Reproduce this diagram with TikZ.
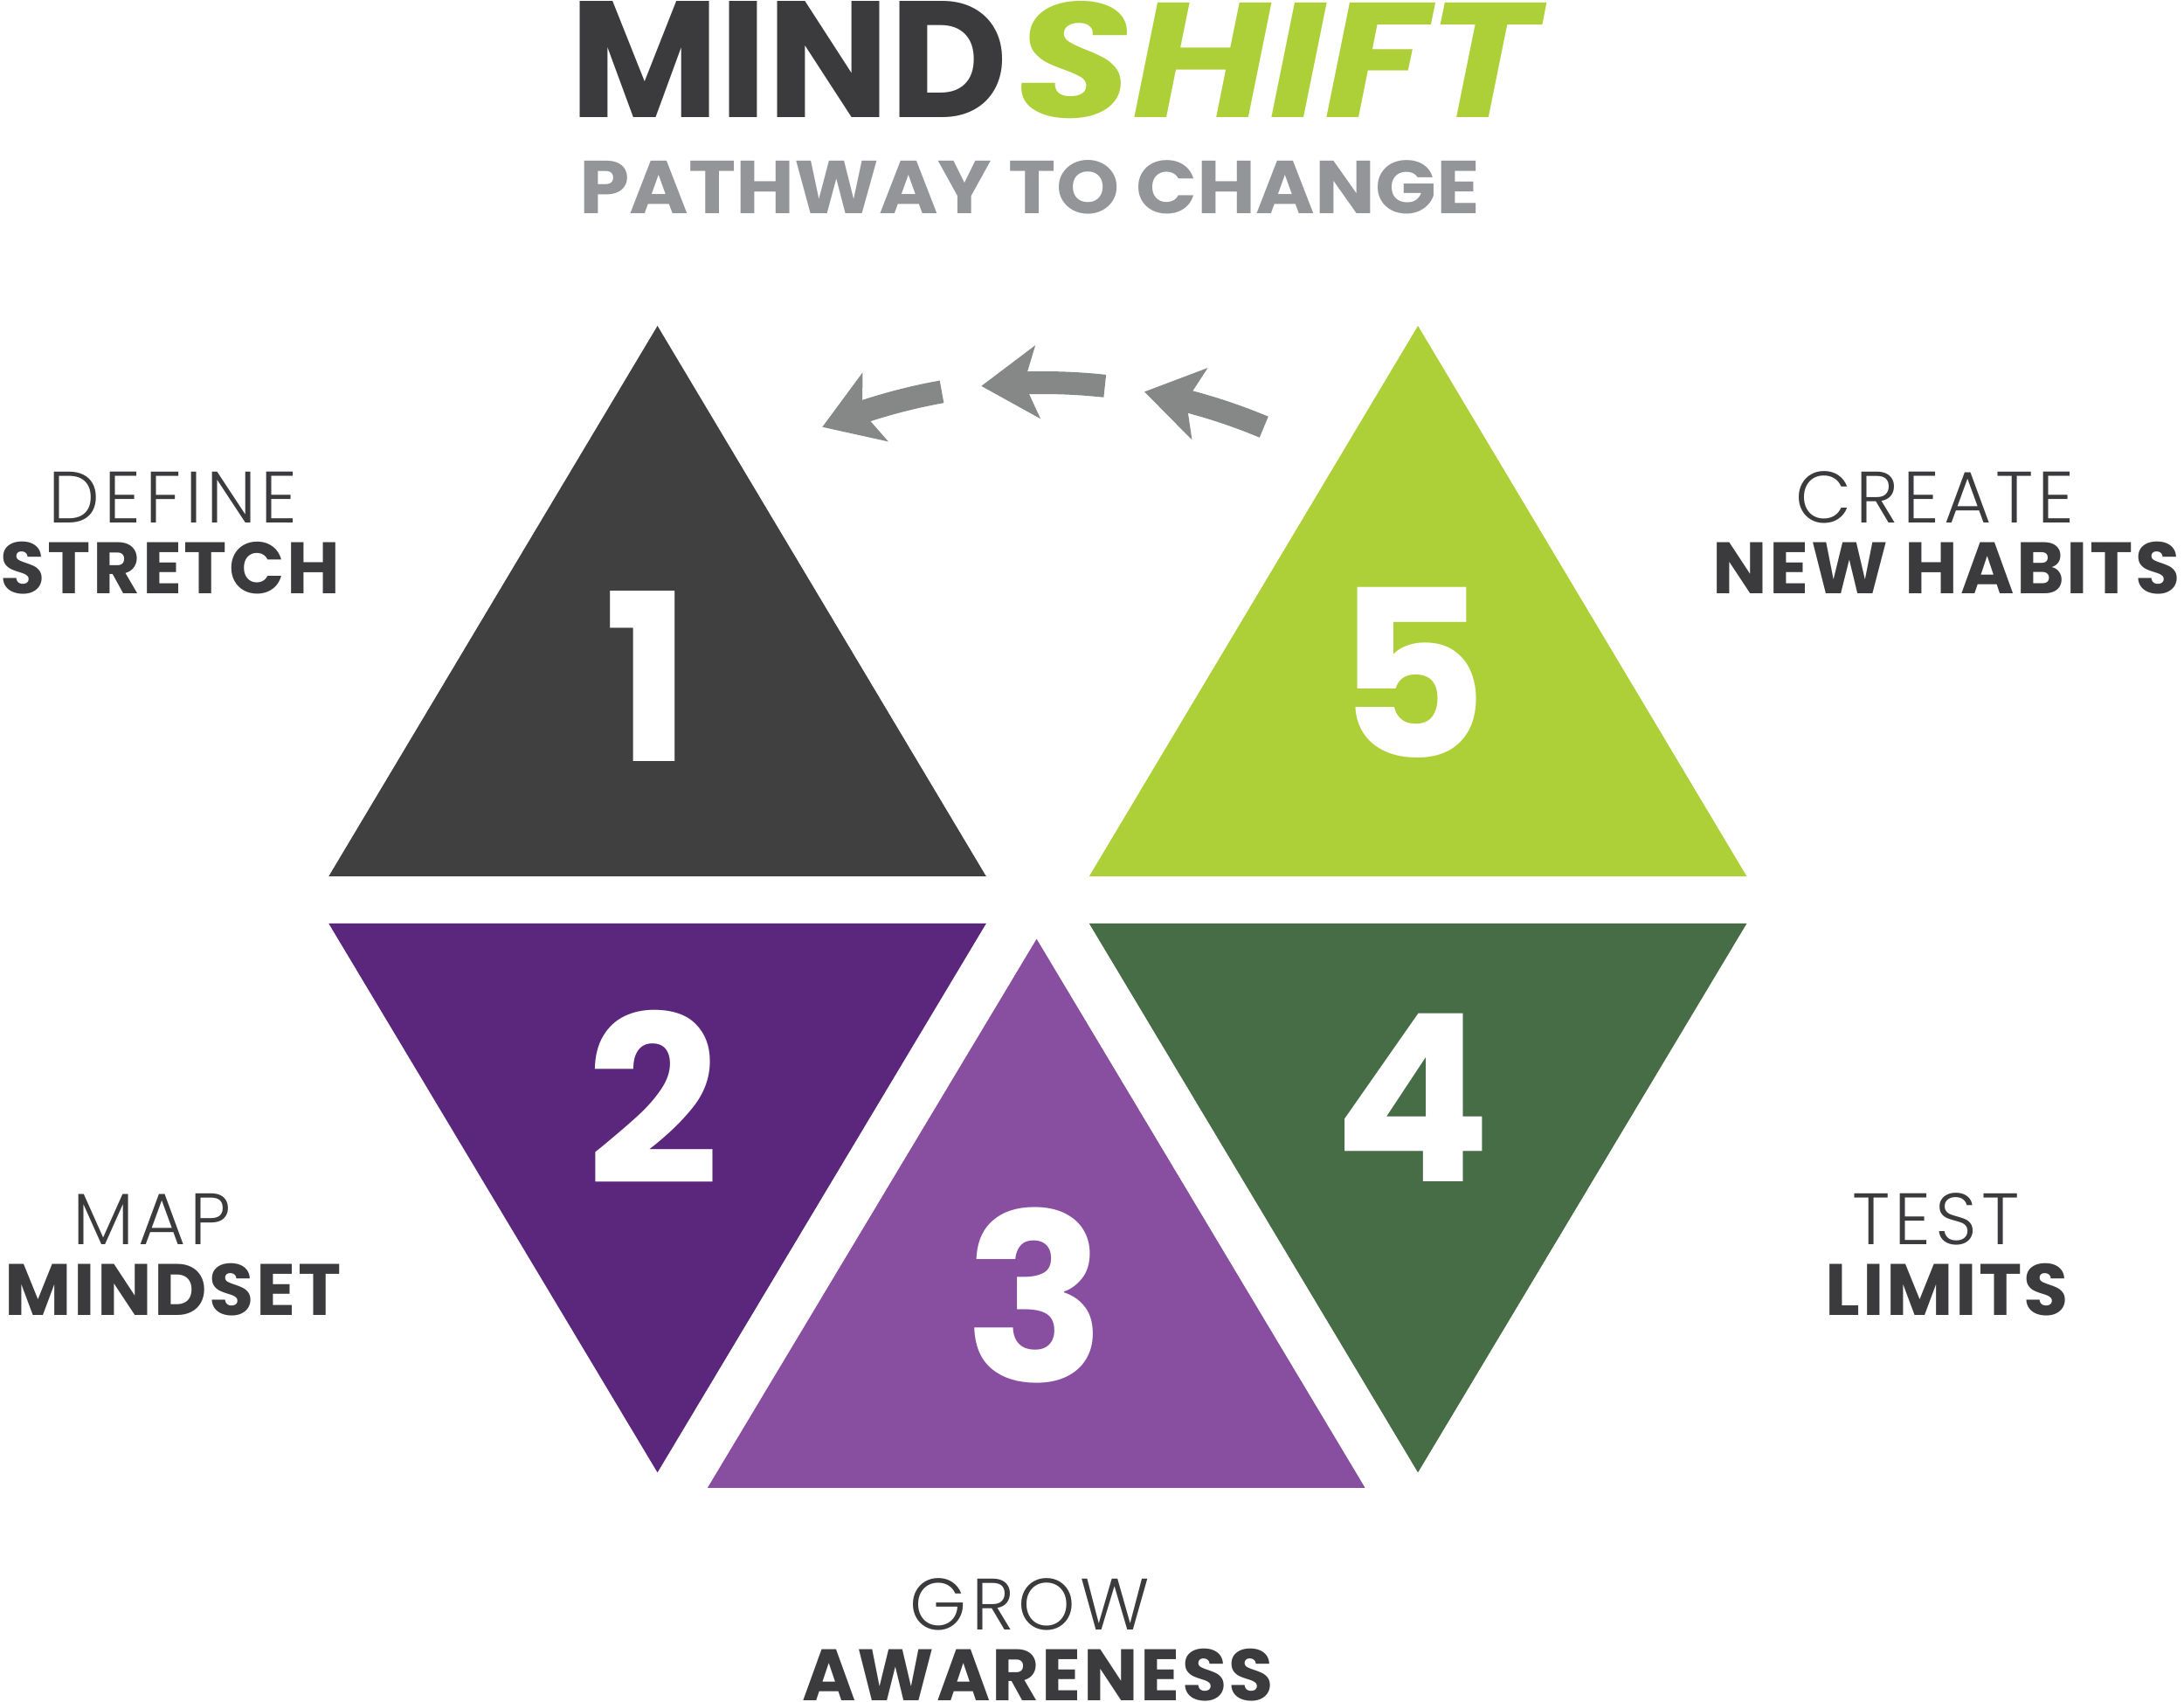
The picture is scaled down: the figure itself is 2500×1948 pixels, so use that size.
\documentclass[tikz,border=0pt]{standalone}
\usepackage{fontspec}
\setmainfont{Poppins}
\newfontfamily\lightfont{Poppins Light}[LetterSpace=6]
\newfontfamily\boldfont{Poppins Bold}[LetterSpace=3]
\usetikzlibrary{arrows.meta,bending,calc}

\definecolor{textgray}{RGB}{59,59,61}
\definecolor{subgray}{RGB}{147,149,152}
\definecolor{arrowgray}{RGB}{134,136,135}
\definecolor{darktri}{RGB}{64,64,64}
\definecolor{limetri}{RGB}{173,207,55}
\definecolor{purpletri}{RGB}{91,39,124}
\definecolor{lilactri}{RGB}{136,78,160}
\definecolor{greentri}{RGB}{70,109,69}

\begin{document}
\begin{tikzpicture}[x=0.1mm,y=-0.1mm,
  every node/.style={inner sep=0pt,text=textgray},
  toplabel/.style={font=\lightfont\fontsize{23.7}{24}\selectfont},
  botlabel/.style={font=\boldfont\fontsize{23.7}{24}\selectfont},
  digit/.style={font=\bfseries\fontsize{76}{76}\selectfont,text=white},
  backarrow/.style={draw=arrowgray,line width=2.6mm,
    -{Stealth[length=6.4mm,width=8.2mm,inset=1.5mm]}}]
\useasboundingbox (0,0) rectangle (2500,1948);

% title
\node (mind) [anchor=west] at (652,68.5) {\resizebox{50.1mm}{13.3mm}{\bfseries MIND}};
\node (shift) [anchor=west,text=limetri] at (1162,68.5) {\resizebox{59.8mm}{13.3mm}{\bfseries\itshape SHIFT}};
\node (pathway) [text=subgray] at (1178.8,214.4) {\resizebox{103.1mm}{6.1mm}{\bfseries PATHWAY TO CHANGE}};

% triangles
\fill [darktri] (752.6,373) -- (376.3,1003) -- (1128.8,1003) -- cycle;
\fill [limetri] (1623.1,373) -- (1246.8,1003) -- (1999.4,1003) -- cycle;
\fill [purpletri] (376.3,1057) -- (1128.8,1057) -- (752.6,1685.3) -- cycle;
\fill [lilactri] (1186.6,1074.7) -- (810,1702.8) -- (1562.5,1702.8) -- cycle;
\fill [greentri] (1246.8,1057) -- (1999.4,1057) -- (1623.1,1685.3) -- cycle;

\node (n1) [digit] at (742,774) {1};
\node (n2) [digit] at (748,1256) {2};
\node (n3) [digit] at (1185,1483) {3};
\node (n4) [digit] at (1617,1256) {4};
\node (n5) [digit] at (1616,770) {5};

% arrows
\coordinate (arcc) at (1194,1093);
\draw [backarrow] ($(arcc)+(-67.3:655)$) arc[start angle=-67.3,end angle=-79.8,radius=655];
\draw [backarrow] ($(arcc)+(-83.8:655)$) arc[start angle=-83.8,end angle=-96.2,radius=655];
\draw [backarrow] ($(arcc)+(-100.2:655)$) arc[start angle=-100.2,end angle=-112.7,radius=655];

% labels
\node (define) [toplabel] at (198,569.5) {DEFINE};
\node (stretch) [botlabel] at (195,650) {STRETCH};
\node (create) [toplabel] at (2215,569.5) {CREATE};
\node (newhabits) [botlabel] at (2228,650) {NEW HABITS};
\node (map) [toplabel] at (174,1395) {MAP};
\node (mindset) [botlabel] at (198,1476) {MINDSET};
\node (test) [toplabel] at (2216,1395) {TEST};
\node (limits) [botlabel] at (2229,1476) {LIMITS};
\node (grow) [toplabel] at (1179,1836) {GROW};
\node (awareness) [botlabel] at (1188,1917) {AWARENESS};
\end{tikzpicture}
\end{document}
